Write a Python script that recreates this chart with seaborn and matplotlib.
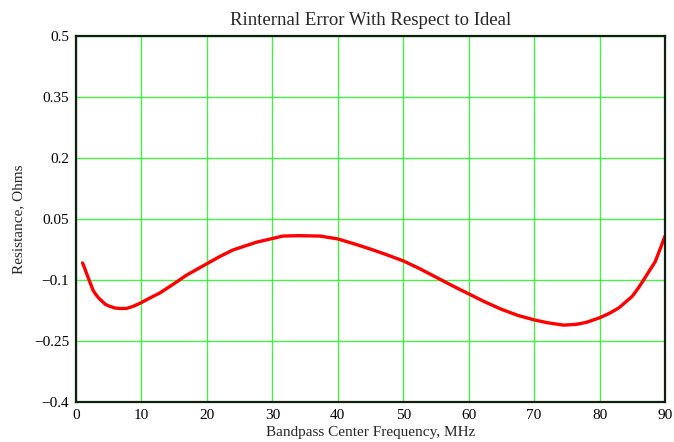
import matplotlib
matplotlib.use("Agg")
import matplotlib.pyplot as plt
import seaborn as sns
import pandas as pd

freq_mhz = [1.0, 1.3, 1.6, 2.0, 2.6, 3.0, 3.5, 4.5, 5.2, 6.0, 6.8, 7.7, 8.7, 9.8,
            11.2, 12.8, 14.8, 16.9, 20.0, 22.0, 24.0, 27.6,
            30.0, 31.6, 34.0, 37.3, 40.0, 42.5, 45.0, 47.5, 50.0, 52.5, 55.0, 57.5,
            60.0, 62.5, 65.0, 67.5, 70.0, 72.0, 74.5, 76.5, 78.0, 80.0, 81.5, 83.0,
            85.0, 86.0, 87.0, 88.5, 89.3, 90.0]
resistance = [-0.058, -0.070, -0.083, -0.100, -0.125, -0.135, -0.145, -0.160, -0.165,
              -0.169, -0.170, -0.170, -0.165, -0.157, -0.145, -0.132, -0.111, -0.088,
              -0.060, -0.042, -0.026, -0.007,
              0.002, 0.008, 0.009, 0.008, 0.001, -0.011, -0.024, -0.038, -0.053,
              -0.072, -0.093, -0.114, -0.134, -0.154, -0.172, -0.187, -0.198, -0.205,
              -0.211, -0.209, -0.204, -0.193, -0.182, -0.168, -0.140, -0.118, -0.093,
              -0.055, -0.022, 0.008]
x_ticks = [0, 10, 20, 30, 40, 50, 60, 70, 80, 90]
y_ticks = [-0.4, -0.25, -0.1, 0.05, 0.2, 0.35, 0.5]
y_tick_labels = ["\u22120.4", "\u22120.25", "\u22120.1", "0.05", "0.2", "0.35", "0.5"]

df = pd.DataFrame({"f": freq_mhz, "r": resistance})

sns.set_theme(style="white")
plt.rcParams["font.family"] = ["Liberation Serif", "DejaVu Serif"]

fig = plt.figure(figsize=(6.74, 4.42), dpi=100)
ax = fig.add_axes([76 / 674, 40 / 442, 589 / 674, 366 / 442])

sns.lineplot(data=df, x="f", y="r", ax=ax, color="#ff0000", linewidth=2.4, sort=True,
             solid_joinstyle="round", solid_capstyle="round")

ax.set_xlim(0, 90)
ax.set_ylim(-0.4, 0.5)
ax.set_xticks(x_ticks)
ax.set_yticks(y_ticks)
ax.set_yticklabels(y_tick_labels)
ax.grid(True, color="#33ee33", linewidth=1.0, alpha=0.9)
ax.set_axisbelow(True)
ax.tick_params(axis="both", length=0, labelsize=11, colors="black", pad=5)
for s in ax.spines.values():
    s.set_color("#102010")
    s.set_linewidth(1.6)

ax.set_title("Rinternal Error With Respect to Ideal", fontsize=13.5, pad=8)
ax.set_xlabel("Bandpass Center Frequency, MHz", fontsize=11, labelpad=3)
ax.set_ylabel("Resistance, Ohms", fontsize=11, labelpad=6)

fig.savefig("out.png", dpi=100)
